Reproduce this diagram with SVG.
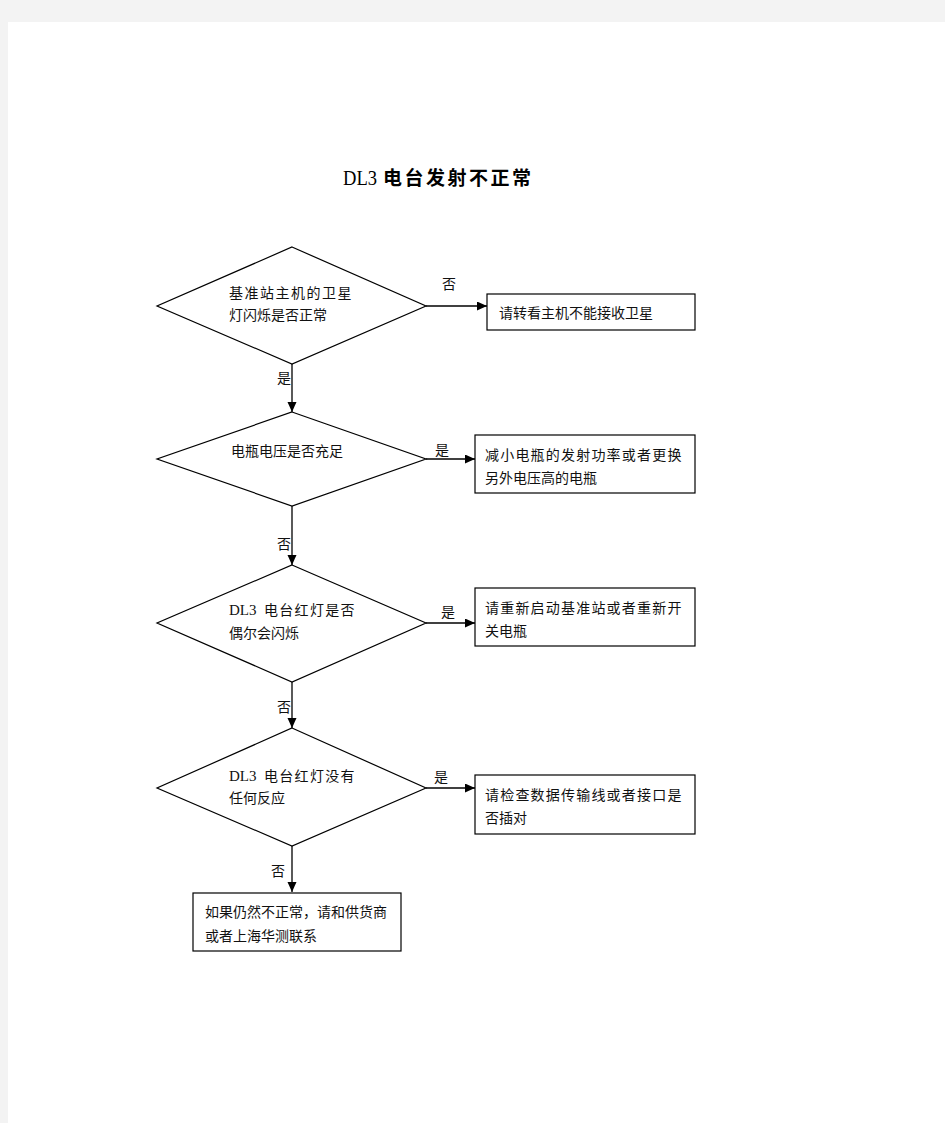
<svg xmlns="http://www.w3.org/2000/svg" width="945" height="1123" viewBox="0 0 945 1123">
<defs>
<style>
.shape{fill:none;stroke:#000;stroke-width:1.2}
.box{fill:#fff;stroke:#000;stroke-width:1.2}
.conn{fill:none;stroke:#000;stroke-width:1.3}
.t{font-family:"Noto Sans CJK SC","Noto Sans",sans-serif;font-size:14px;fill:#111}
.lat{font-family:"Liberation Serif","Noto Sans CJK SC",serif;font-size:15px;fill:#111}
.lbl{font-family:"Noto Sans CJK SC","Noto Sans",sans-serif;font-size:14px;fill:#111}
.w{letter-spacing:1.2px}
</style>
<marker id="arr" markerUnits="userSpaceOnUse" markerWidth="11" markerHeight="10" refX="10" refY="4.5" orient="auto">
<path d="M0,0 L10,4.5 L0,9 z" fill="#000"/>
</marker>
</defs>
<rect x="0" y="0" width="945" height="1123" fill="#f3f3f3"/>
<rect x="8" y="22" width="937" height="1101" fill="#fff"/>

<g id="title">
<text x="343" y="185" font-family="Liberation Serif,serif" font-size="21" textLength="34" lengthAdjust="spacingAndGlyphs" fill="#000">DL3</text>
<text x="383" y="185" font-family="Noto Sans CJK SC,sans-serif" font-size="19" font-weight="bold" letter-spacing="2.5" fill="#000">电台发射不正常</text>
</g>

<g id="connectors">
<line class="conn" x1="426" y1="306" x2="487" y2="306" marker-end="url(#arr)"/>
<line class="conn" x1="292" y1="364" x2="292" y2="412" marker-end="url(#arr)"/>
<line class="conn" x1="426" y1="459" x2="475" y2="459" marker-end="url(#arr)"/>
<line class="conn" x1="292" y1="506" x2="292" y2="565" marker-end="url(#arr)"/>
<line class="conn" x1="426" y1="623" x2="475" y2="623" marker-end="url(#arr)"/>
<line class="conn" x1="292" y1="682" x2="292" y2="728" marker-end="url(#arr)"/>
<line class="conn" x1="426" y1="788" x2="475" y2="788" marker-end="url(#arr)"/>
<line class="conn" x1="292" y1="846" x2="292" y2="892" marker-end="url(#arr)"/>
<text class="lbl" x="442" y="289">否</text>
<text class="lbl" x="277" y="383">是</text>
<text class="lbl" x="435" y="455">是</text>
<text class="lbl" x="277" y="549">否</text>
<text class="lbl" x="441" y="617">是</text>
<text class="lbl" x="277" y="712">否</text>
<text class="lbl" x="434" y="782">是</text>
<text class="lbl" x="271" y="876">否</text>
</g>

<g id="d1">
<polygon class="shape" points="292,247 426,306 292,364 157,306"/>
<text class="t" x="229" y="298" letter-spacing="1.5">基准站主机的卫星</text>
<text class="t" x="229" y="320">灯闪烁是否正常</text>
</g>

<g id="b1">
<rect class="box" x="487" y="294" width="208" height="36"/>
<text class="t" x="499" y="318">请转看主机不能接收卫星</text>
</g>

<g id="d2">
<polygon class="shape" points="292,412 426,459 292,506 157,459"/>
<text class="t" x="231" y="456">电瓶电压是否充足</text>
</g>

<g id="b2">
<rect class="box" x="475" y="435" width="220" height="58"/>
<text class="t w" x="485" y="460">减小电瓶的发射功率或者更换</text>
<text class="t" x="485" y="483">另外电压高的电瓶</text>
</g>

<g id="d3">
<polygon class="shape" points="292,565 426,623 292,682 157,623"/>
<text class="lat" x="229" y="615">DL3</text>
<text class="t" x="264" y="615" letter-spacing="1.3">电台红灯是否</text>
<text class="t" x="229" y="638">偶尔会闪烁</text>
</g>

<g id="b3">
<rect class="box" x="475" y="588" width="220" height="58"/>
<text class="t w" x="485" y="613">请重新启动基准站或者重新开</text>
<text class="t" x="485" y="636">关电瓶</text>
</g>

<g id="d4">
<polygon class="shape" points="292,728 426,788 292,846 157,788"/>
<text class="lat" x="229" y="781">DL3</text>
<text class="t" x="264" y="781" letter-spacing="1.3">电台红灯没有</text>
<text class="t" x="229" y="803">任何反应</text>
</g>

<g id="b4">
<rect class="box" x="475" y="775" width="220" height="59"/>
<text class="t w" x="485" y="800">请检查数据传输线或者接口是</text>
<text class="t" x="485" y="823">否插对</text>
</g>

<g id="b5">
<rect class="box" x="193" y="893" width="208" height="58"/>
<text class="t" x="205" y="917">如果仍然不正常，请和供货商</text>
<text class="t" x="205" y="941">或者上海华测联系</text>
</g>
</svg>
